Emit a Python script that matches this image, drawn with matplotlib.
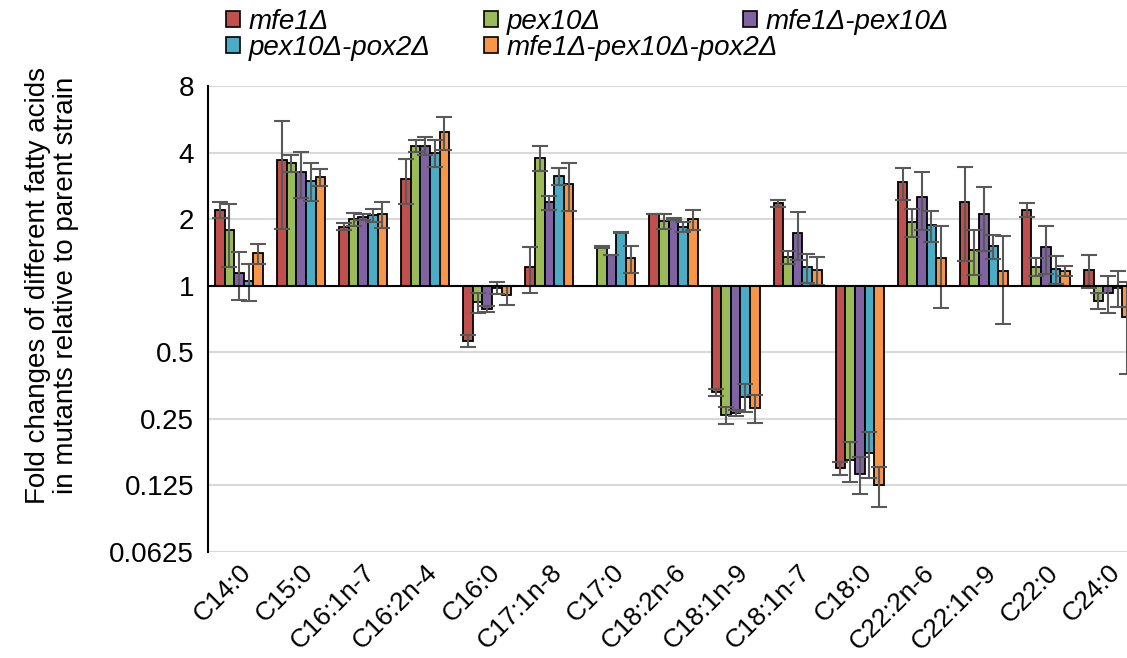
import numpy as np
import matplotlib
matplotlib.use("Agg")
import matplotlib.pyplot as plt
from matplotlib.patches import Patch

plt.rcParams['font.family'] = ['Liberation Sans', 'DejaVu Sans']

categories = ["C14:0", "C15:0", "C16:1n-7", "C16:2n-4", "C16:0", "C17:1n-8", "C17:0",
              "C18:2n-6", "C18:1n-9", "C18:1n-7", "C18:0", "C22:2n-6", "C22:1n-9",
              "C22:0", "C24:0"]

series_names = ["mfe1Δ", "pex10Δ", "mfe1Δ-pex10Δ", "pex10Δ-pox2Δ", "mfe1Δ-pex10Δ-pox2Δ"]

mfe1 = [2.20, 3.69, 1.85, 3.03, 0.565, 1.21, np.nan, 2.11, 0.33, 2.36, 0.150, 2.93, 2.38, 2.21, 1.18]
mfe1_err = [0.18, 1.88, 0.07, 0.70, 0.036, 0.28, np.nan, 0.01, 0.012, 0.08, 0.010, 0.49, 1.08, 0.16, 0.20]

pex10 = [1.78, 3.59, 2.00, 4.30, 0.84, 3.78, 1.50, 1.96, 0.26, 1.35, 0.163, 1.94, 1.45, 1.22, 0.855]
pex10_err = [0.56, 0.31, 0.14, 0.26, 0.09, 0.49, 0.02, 0.16, 0.023, 0.09, 0.033, 0.28, 0.33, 0.11, 0.07]

mfe1_pex10 = [1.14, 3.26, 2.05, 4.30, 0.787, 2.38, 1.38, 2.00, 0.266, 1.73, 0.141, 2.53, 2.12, 1.495, 0.93]
mfe1_pex10_err = [0.28, 0.78, 0.07, 0.42, 0.025, 0.17, 0.0, 0.02, 0.009, 0.42, 0.027, 0.75, 0.68, 0.37, 0.18]

pex10_pox2 = [1.05, 2.99, 2.08, 4.00, 0.976, 3.13, 1.74, 1.85, 0.314, 1.21, 0.176, 1.88, 1.505, 1.19, 0.98]
pex10_pox2_err = [0.20, 0.58, 0.14, 0.54, 0.06, 0.27, 0.01, 0.10, 0.046, 0.18, 0.041, 0.30, 0.19, 0.17, 0.18]

mfe1_pex10_pox2 = [1.40, 3.09, 2.10, 4.94, 0.908, 2.89, 1.33, 2.00, 0.28, 1.18, 0.126, 1.33, 1.17, 1.17, 0.72]
mfe1_pex10_pox2_err = [0.14, 0.27, 0.28, 0.84, 0.09, 0.71, 0.19, 0.21, 0.04, 0.17, 0.026, 0.54, 0.50, 0.06, 0.32]

values = [mfe1, pex10, mfe1_pex10, pex10_pox2, mfe1_pex10_pox2]
errors = [mfe1_err, pex10_err, mfe1_pex10_err, pex10_pox2_err, mfe1_pex10_pox2_err]
colors = ["#C0504D", "#9BBB59", "#8064A2", "#4BACC6", "#F79646"]

y_ticks = [0.0625, 0.125, 0.25, 0.5, 1, 2, 4, 8]
y_ticklabels = ["0.0625", "0.125", "0.25", "0.5", "1", "2", "4", "8"]

W, H = 1127, 658
fig = plt.figure(figsize=(W / 100, H / 100), dpi=100)
ax = fig.add_axes([208 / W, (H - 552) / H, 931 / W, 466 / H])

x = np.arange(len(categories))
bw = 0.155
for i, (vals, errs, c) in enumerate(zip(values, errors, colors)):
    vals = np.array(vals)
    pos = x + (i - 2) * bw
    ax.bar(pos, vals - 1, bottom=1, width=bw, color=c, edgecolor="black",
           linewidth=1.3, zorder=3)
    ax.errorbar(pos, vals, yerr=np.array(errs), fmt="none", ecolor="#595959",
                elinewidth=1.5, capsize=5.5, capthick=1.5, zorder=4)

ax.set_yscale("log", base=2)
ax.set_ylim(0.0625, 8)
ax.set_xlim(-0.5, len(categories) - 0.5)
ax.set_yticks(y_ticks)
ax.set_yticklabels(y_ticklabels, fontsize=20)
ax.minorticks_off()
ax.tick_params(axis="y", length=0, pad=10)
ax.tick_params(axis="x", length=0, pad=6)
ax.set_xticks(x)
ax.set_xticklabels(categories, fontsize=19, rotation=45, ha="right",
                   rotation_mode="anchor")

ax.grid(axis="y", color="#d9d9d9", linewidth=1.5, zorder=0)
ax.axhline(1, color="black", linewidth=1.5, zorder=5)
for s in ["top", "right", "bottom"]:
    ax.spines[s].set_visible(False)
ax.spines["left"].set_linewidth(1.5)
ax.spines["left"].set_zorder(6)

fig.text(0.046, (H - 285) / H,
         "Fold changes of different fatty acids\nin mutants relative to parent strain",
         rotation=90, ha="center", va="center", fontsize=20, linespacing=1.1)

# legend: three columns, filled row by row like the original
col_x = [226, 484, 743]
cols = [[0, 3], [1, 4], [2]]
for cx, idx in zip(col_x, cols):
    handles = [Patch(facecolor=colors[k], edgecolor="black", linewidth=1.2,
                     label=series_names[k]) for k in idx]
    fig.legend(handles=handles, loc="upper left",
               bbox_to_anchor=(cx / W, (H - 9) / H), frameon=False,
               borderpad=0, borderaxespad=0, handlelength=0.5,
               handleheight=0.5, handletextpad=0.3, labelspacing=0.0,
               prop={"style": "italic", "size": 20})

fig.savefig("out.png", dpi=100)
